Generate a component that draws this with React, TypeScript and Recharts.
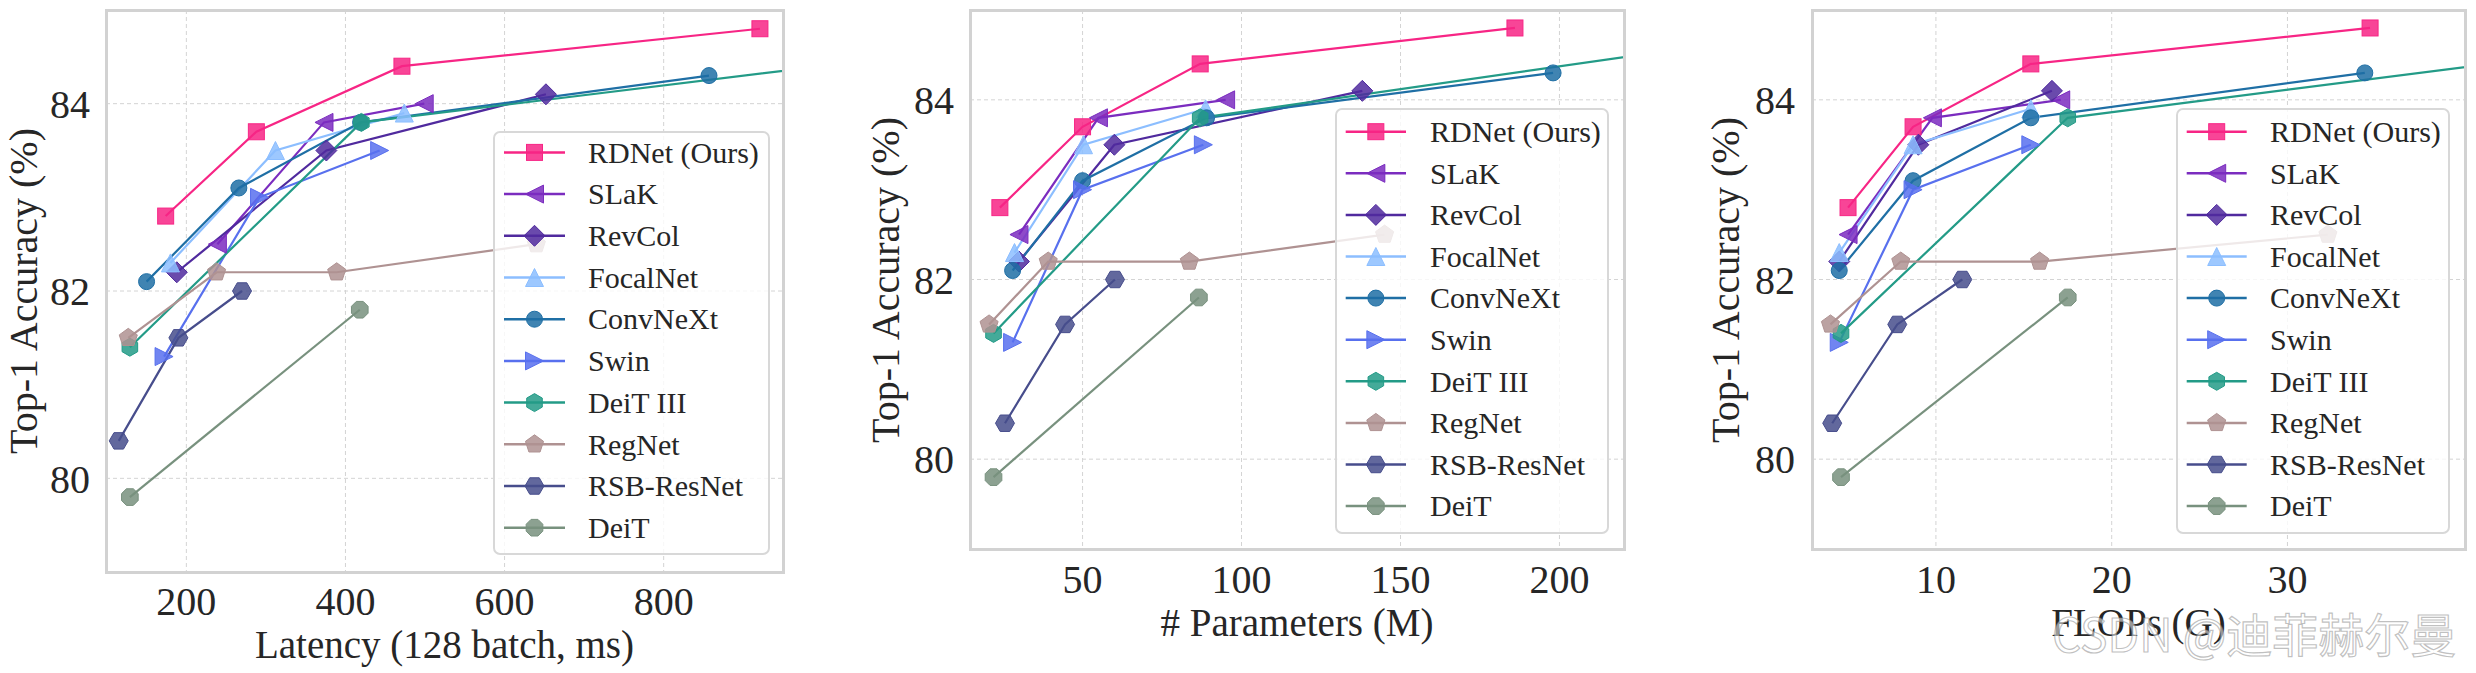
import { CartesianGrid, Line, LineChart, XAxis, YAxis } from "recharts";

// top-1 accuracy (%)
const rdnetAcc = [82.8, 83.7, 84.4, 84.8];
const slakAcc = [82.5, 83.8, 84.0];
const revcolAcc = [82.2, 83.5, 84.1];
const focalnetAcc = [82.3, 83.5, 83.9];
const convnextAcc = [82.1, 83.1, 83.8, 84.3];
const swinAcc = [81.3, 83.0, 83.5];
const deit3Acc = [81.4, 83.8, 84.9];
const regnetAcc = [81.5, 82.2, 82.2, 82.5];
const rsbAcc = [80.4, 81.5, 82.0];
const deitAcc = [79.8, 81.8];

// latency (128 batch, ms)
const rdnetLatency = [174, 288, 471, 921];
const slakLatency = [239, 373, 499];
const revcolLatency = [188, 376, 652];
const focalnetLatency = [180, 312, 474];
const convnextLatency = [150, 266, 419, 857];
const swinLatency = [172, 292, 443];
const deit3Latency = [129, 420, 1480];
const regnetLatency = [127, 238, 389, 640];
const rsbLatency = [115, 190, 270];
const deitLatency = [129, 418];

// # parameters (M)
const rdnetParams = [24, 50, 87, 186];
const slakParams = [30, 55, 95];
const revcolParams = [30, 60, 138];
const focalnetParams = [28.6, 50.3, 88.7];
const convnextParams = [28, 50, 89, 198];
const swinParams = [28, 50, 88];
const deit3Params = [22, 87, 304];
const regnetParams = [20.6, 39.2, 83.6, 145];
const rsbParams = [25.6, 44.5, 60.2];
const deitParams = [22, 86.6];

// FLOPs (G)
const rdnetFlops = [5.0, 8.7, 15.4, 34.7];
const slakFlops = [5.0, 9.8, 17.1];
const revcolFlops = [4.5, 9.0, 16.6];
const focalnetFlops = [4.5, 8.7, 15.4];
const convnextFlops = [4.5, 8.7, 15.4, 34.4];
const swinFlops = [4.5, 8.7, 15.4];
const deit3Flops = [4.6, 17.5, 61.6];
const regnetFlops = [4.0, 8.0, 15.9, 32.3];
const rsbFlops = [4.1, 7.8, 11.5];
const deitFlops = [4.6, 17.5];

const yTicks = [80, 82, 84];
const latencyTicks = [200, 400, 600, 800];
const paramTicks = [50, 100, 150, 200];
const flopTicks = [10, 20, 30];

type MarkerKind =
  | "square"
  | "triLeft"
  | "diamond"
  | "triUp"
  | "circle"
  | "triRight"
  | "hexagon"
  | "pentagon"
  | "hexagonFlat"
  | "octagon";

type Metric = "latency" | "params" | "flops";

const models = [
  { name: "RDNet (Ours)", acc: rdnetAcc, latency: rdnetLatency, params: rdnetParams, flops: rdnetFlops, color: "#f72585", marker: "square" },
  { name: "SLaK", acc: slakAcc, latency: slakLatency, params: slakParams, flops: slakFlops, color: "#7b2cbf", marker: "triLeft" },
  { name: "RevCol", acc: revcolAcc, latency: revcolLatency, params: revcolParams, flops: revcolFlops, color: "#502a9e", marker: "diamond" },
  { name: "FocalNet", acc: focalnetAcc, latency: focalnetLatency, params: focalnetParams, flops: focalnetFlops, color: "#8cbeff", marker: "triUp" },
  { name: "ConvNeXt", acc: convnextAcc, latency: convnextLatency, params: convnextParams, flops: convnextFlops, color: "#1f6fa5", marker: "circle" },
  { name: "Swin", acc: swinAcc, latency: swinLatency, params: swinParams, flops: swinFlops, color: "#5870ee", marker: "triRight" },
  { name: "DeiT III", acc: deit3Acc, latency: deit3Latency, params: deit3Params, flops: deit3Flops, color: "#239b87", marker: "hexagon" },
  { name: "RegNet", acc: regnetAcc, latency: regnetLatency, params: regnetParams, flops: regnetFlops, color: "#af9292", marker: "pentagon" },
  { name: "RSB-ResNet", acc: rsbAcc, latency: rsbLatency, params: rsbParams, flops: rsbFlops, color: "#474d8c", marker: "hexagonFlat" },
  { name: "DeiT", acc: deitAcc, latency: deitLatency, params: deitParams, flops: deitFlops, color: "#78917e", marker: "octagon" },
] as { name: string; acc: number[]; latency: number[]; params: number[]; flops: number[]; color: string; marker: MarkerKind }[];

const HEIGHT = 673;
const PLOT_TOP = 10;
const Y_AXIS_W = 90;
const X_AXIS_H = 60;
const SERIF = '"Liberation Serif", "Times New Roman", serif';
const TEXT = "#262626";

const panels = [
  {
    metric: "latency" as Metric,
    left: 0,
    width: 800,
    plotLeft: 106,
    plotRight: 783,
    plotBottom: 572,
    xDomain: [99, 950],
    xTicks: latencyTicks,
    xLabel: "Latency (128 batch, ms)",
    xLabelY: 644,
    yLabelX: 24,
    yTickMargin: 16,
    xTickMargin: 14.5,
    legend: { left: 493, top: 131, width: 277, height: 424, rowTop: 21.4, rowGap: 41.7, lineFrom: 11, lineTo: 72, textX: 95 },
  },
  {
    metric: "params" as Metric,
    left: 820,
    width: 820,
    plotLeft: 150,
    plotRight: 804,
    plotBottom: 549,
    xDomain: [14.6, 220.3],
    xTicks: paramTicks,
    xLabel: "# Parameters (M)",
    xLabelY: 622,
    yLabelX: 886,
    yTickMargin: 16,
    xTickMargin: 15.5,
    legend: { left: 1335, top: 108, width: 274, height: 426, rowTop: 23.7, rowGap: 41.6, lineFrom: 10.7, lineTo: 71, textX: 95 },
  },
  {
    metric: "flops" as Metric,
    left: 1650,
    width: 826,
    plotLeft: 162,
    plotRight: 815,
    plotBottom: 549,
    xDomain: [2.95, 40.1],
    xTicks: flopTicks,
    xLabel: "FLOPs (G)",
    xLabelY: 622,
    yLabelX: 1726,
    yTickMargin: 17,
    xTickMargin: 15.5,
    legend: { left: 2176, top: 108, width: 274, height: 426, rowTop: 23.7, rowGap: 41.6, lineFrom: 10.7, lineTo: 70.7, textX: 94 },
  },
];

function polyPoints(cx: number, cy: number, r: number, n: number, rot: number) {
  const pts: string[] = [];
  for (let i = 0; i < n; i++) {
    const a = rot + (2 * Math.PI * i) / n;
    pts.push(`${cx + r * Math.sin(a)},${cy - r * Math.cos(a)}`);
  }
  return pts.join(" ");
}

function Marker({ kind, cx, cy, color }: { kind: MarkerKind; cx: number; cy: number; color: string }) {
  const common = { fill: color, fillOpacity: 0.85, stroke: color, strokeWidth: 1 };
  switch (kind) {
    case "square":
      return <rect x={cx - 8} y={cy - 8} width={16} height={16} {...common} />;
    case "circle":
      return <circle cx={cx} cy={cy} r={8} {...common} />;
    case "triLeft":
      return <polygon points={`${cx - 9},${cy} ${cx + 9},${cy - 9} ${cx + 9},${cy + 9}`} {...common} />;
    case "triRight":
      return <polygon points={`${cx + 9},${cy} ${cx - 9},${cy - 9} ${cx - 9},${cy + 9}`} {...common} />;
    case "triUp":
      return <polygon points={`${cx},${cy - 9} ${cx + 9},${cy + 9} ${cx - 9},${cy + 9}`} {...common} />;
    case "diamond":
      return <polygon points={polyPoints(cx, cy, 10.5, 4, 0)} {...common} />;
    case "hexagon":
      return <polygon points={polyPoints(cx, cy, 9, 6, 0)} {...common} />;
    case "hexagonFlat":
      return <polygon points={polyPoints(cx, cy, 9.5, 6, Math.PI / 6)} {...common} />;
    case "pentagon":
      return <polygon points={polyPoints(cx, cy, 9.5, 5, 0)} {...common} />;
    case "octagon":
      return <polygon points={polyPoints(cx, cy, 9, 8, Math.PI / 8)} {...common} />;
  }
  return null;
}

type Panel = (typeof panels)[number];

function LegendBox({ panel }: { panel: Panel }) {
  const lg = panel.legend;
  return (
    <svg
      width={lg.width}
      height={lg.height}
      style={{ position: "absolute", left: lg.left - panel.left, top: lg.top, overflow: "visible" }}
    >
      <rect x={1} y={1} width={lg.width - 2} height={lg.height - 2} rx={6} fill="#ffffff" fillOpacity={0.8} stroke="#d8d8d8" strokeWidth={2} />
      {models.map((m, i) => {
        const y = lg.rowTop + i * lg.rowGap;
        const mid = (lg.lineFrom + lg.lineTo) / 2;
        return (
          <g key={m.name}>
            <line x1={lg.lineFrom} x2={lg.lineTo} y1={y} y2={y} stroke={m.color} strokeWidth={2.5} />
            <Marker kind={m.marker} cx={mid} cy={y} color={m.color} />
            <text x={lg.textX} y={y} dy="0.34em" fontSize={30} fontFamily={SERIF} fill={TEXT}>
              {m.name}
            </text>
          </g>
        );
      })}
    </svg>
  );
}

function PanelChart({ panel }: { panel: Panel }) {
  const plotW = panel.plotRight - panel.plotLeft;
  const plotH = panel.plotBottom - PLOT_TOP;
  const margin = {
    top: PLOT_TOP,
    right: panel.width - panel.plotRight,
    left: panel.plotLeft - Y_AXIS_W,
    bottom: HEIGHT - panel.plotBottom - X_AXIS_H,
  };
  const tickStyle = { fill: TEXT, fontSize: 40, fontFamily: SERIF };

  return (
    <div style={{ position: "absolute", left: panel.left, top: 0, width: panel.width, height: HEIGHT }}>
      <LineChart width={panel.width} height={HEIGHT} margin={margin}>
        <CartesianGrid stroke="#d4d4d4" strokeDasharray="4 3" strokeWidth={1} />
        <XAxis
          type="number"
          dataKey="x"
          domain={panel.xDomain}
          ticks={panel.xTicks}
          allowDataOverflow
          interval={0}
          height={X_AXIS_H}
          axisLine={false}
          tickLine={false}
          tickSize={0}
          tickMargin={panel.xTickMargin}
          tick={tickStyle}
        />
        <YAxis
          type="number"
          domain={[79, 85]}
          ticks={yTicks}
          allowDataOverflow
          interval={0}
          width={Y_AXIS_W}
          axisLine={false}
          tickLine={false}
          tickSize={0}
          tickMargin={panel.yTickMargin}
          tick={tickStyle}
        />
        {models.map((m) => (
          <Line
            key={m.name}
            name={m.name}
            data={m[panel.metric].map((x, i) => ({ x, y: m.acc[i] }))}
            dataKey="y"
            type="linear"
            stroke={m.color}
            strokeWidth={2.2}
            isAnimationActive={false}
            activeDot={false}
            dot={(p: any) => <Marker key={`${m.name}-${p.index}`} kind={m.marker} cx={p.cx} cy={p.cy} color={m.color} />}
          />
        ))}
      </LineChart>

      <div
        style={{
          position: "absolute",
          left: panel.plotLeft - 1.5,
          top: PLOT_TOP - 1.5,
          width: plotW + 3,
          height: plotH + 3,
          boxSizing: "border-box",
          border: "3px solid #d2d2d2",
          pointerEvents: "none",
        }}
      />

      <LegendBox panel={panel} />

      <div
        style={{
          position: "absolute",
          left: (panel.plotLeft + panel.plotRight) / 2,
          top: panel.xLabelY,
          transform: "translate(-50%, -50%)",
          fontFamily: SERIF,
          fontSize: 39,
          lineHeight: 1,
          color: TEXT,
          whiteSpace: "nowrap",
        }}
      >
        {panel.xLabel}
      </div>
      <div
        style={{
          position: "absolute",
          left: panel.yLabelX - panel.left,
          top: (PLOT_TOP + panel.plotBottom) / 2,
          transform: "translate(-50%, -50%) rotate(-90deg)",
          fontFamily: SERIF,
          fontSize: 40,
          lineHeight: 1,
          color: TEXT,
          whiteSpace: "nowrap",
        }}
      >
        Top-1 Accuracy (%)
      </div>
    </div>
  );
}

export default function App() {
  return (
    <div style={{ position: "absolute", left: 0, top: 0, width: 2476, height: HEIGHT, background: "#ffffff", overflow: "hidden" }}>
      {panels.map((p) => (
        <PanelChart key={p.metric} panel={p} />
      ))}
      <div
        style={{
          position: "absolute",
          left: 2052,
          top: 632,
          transform: "translateY(-50%)",
          fontFamily: '"Noto Sans CJK SC", "Noto Sans", sans-serif',
          fontSize: 46,
          lineHeight: 1,
          color: "rgba(255,255,255,0.55)",
          WebkitTextStroke: "1.2px rgba(130,130,130,0.5)",
          whiteSpace: "nowrap",
        }}
      >
        CSDN @迪菲赫尔曼
      </div>
    </div>
  );
}
